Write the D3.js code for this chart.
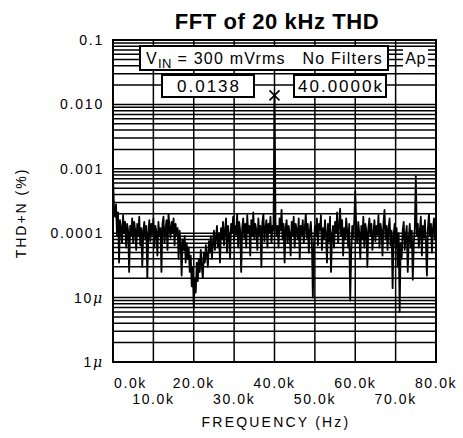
<!DOCTYPE html>
<html><head><meta charset="utf-8">
<script src="https://cdn.jsdelivr.net/npm/d3@7"></script>
<style>body{margin:0;background:#fff}svg{display:block}</style>
</head><body>
<script>
// ---- data ----
const title = "FFT of 20 kHz THD";
const xTicks = [0, 10, 20, 30, 40, 50, 60, 70, 80];          // kHz
const xTickLabels = ["0.0k","10.0k","20.0k","30.0k","40.0k","50.0k","60.0k","70.0k","80.0k"];
const yTicks = [1e-1, 1e-2, 1e-3, 1e-4, 1e-5, 1e-6];
const yTickLabels = ["0.1","0.010","0.001","0.0001","10\u03bc","1\u03bc"];
const freqStepKHz = 0.25;
// THD+N in micro-percent (x1e-6 %), one value per 0.25 kHz from 0 to 80 kHz
const thdMicroPct = [
 800,250,180,280,90,210,35,160,120,70,190,100,150,60,140,110,25,130,90,170,
 70,150,110,55,140,90,180,65,120,30,110,150,80,130,20,100,160,75,140,95,
 170,60,130,105,45,150,90,120,25,140,180,70,110,160,55,200,120,85,150,100,
 170,65,140,90,120,40,110,70,22,80,55,90,35,70,40,60,25,45,15,30,
 7,20,12,35,18,40,25,55,30,20,50,35,65,45,30,75,50,90,40,70,
 110,55,85,130,60,100,35,120,80,150,65,110,170,50,130,90,40,140,100,180,
 75,130,95,200,60,150,110,25,120,170,85,140,60,190,100,130,45,160,90,210,
 80,140,110,55,170,95,130,30,150,200,75,120,160,60,140,100,180,70,130,110,
 13800,150,90,130,60,170,110,230,80,140,35,120,160,70,130,100,45,150,90,180,
 60,140,110,80,170,40,130,95,160,70,120,200,85,140,50,110,150,75,10,60,
 130,90,170,65,140,110,190,55,120,80,160,100,35,140,75,180,25,90,130,60,
 150,100,210,70,130,240,90,160,45,120,80,170,110,60,140,9,50,130,85,160,
 450,120,70,150,100,40,130,80,180,60,140,110,30,120,170,90,140,55,100,160,
 75,130,95,190,60,140,110,45,150,230,80,130,55,120,170,65,110,14,90,140,
 60,120,30,100,6,70,40,110,150,55,90,130,25,80,140,60,110,19,70,120,
 770,90,140,60,110,180,45,130,85,160,70,22,120,200,90,140,50,120,170,80,
 130
];
const cursorValue = 0.0138, cursorFreq = 40;
const cursorLabels = ["0.0138", "40.0000k"];
const infoText = ["V", "IN", " = 300 mVrms", "No Filters", "Ap"];

// ---- chart ----
const W = 463, H = 438;
const L = 113, R = 436, T = 40, B = 362;
const svg = d3.select("body").append("svg").attr("width", W).attr("height", H);
svg.append("rect").attr("width", W).attr("height", H).attr("fill", "#fff");

const x = d3.scaleLinear().domain([0, 80]).range([L, R]);
const y = d3.scaleLog().domain([1e-6, 1e-1]).range([B, T]);
const font = "'Liberation Sans', Arial, sans-serif";

// grid
const g = svg.append("g");
const hLines = [];
for (let e = -6; e < -1; e++) for (let k = 1; k <= 9; k++) hLines.push(k * Math.pow(10, e));
g.selectAll("line.h").data(hLines).enter().append("line")
  .attr("x1", L).attr("x2", R).attr("y1", d => y(d)).attr("y2", d => y(d))
  .attr("stroke", "#000").attr("stroke-width", 1.5);
g.selectAll("line.v").data(xTicks).enter().append("line")
  .attr("x1", d => x(d)).attr("x2", d => x(d)).attr("y1", T).attr("y2", B)
  .attr("stroke", "#000").attr("stroke-width", 1.5);

// trace
const data = thdMicroPct.map((v, i) => ({f: i * freqStepKHz, v: v * 1e-6}));
svg.append("path").datum(data)
  .attr("d", d3.line().x(d => x(d.f)).y(d => y(d.v)))
  .attr("fill", "none").attr("stroke", "#000").attr("stroke-width", 1.8)
  .attr("stroke-linejoin", "round");

// border
svg.append("rect").attr("x", L).attr("y", T).attr("width", R - L).attr("height", B - T)
  .attr("fill", "none").attr("stroke", "#000").attr("stroke-width", 2);

// info box
svg.append("rect").attr("x", 140).attr("y", 46).attr("width", 248).attr("height", 24)
  .attr("fill", "#fff").attr("stroke", "#000").attr("stroke-width", 2);
const it = svg.append("text").attr("x", 146).attr("y", 64).attr("font-family", font)
  .attr("font-size", 16).attr("letter-spacing", 1.2);
it.append("tspan").text(infoText[0]);
it.append("tspan").attr("dy", 4).attr("font-size", 13).attr("letter-spacing", 0.5).text(infoText[1]);
it.append("tspan").attr("dy", -4).text(infoText[2]);
svg.append("text").attr("x", 383).attr("y", 64).attr("text-anchor", "end").attr("font-family", font)
  .attr("font-size", 16).attr("letter-spacing", 1.2).text(infoText[3]);
// Ap
svg.append("rect").attr("x", 403).attr("y", 49).attr("width", 25).attr("height", 19).attr("fill", "#fff");
svg.append("text").attr("x", 415.5).attr("y", 64).attr("text-anchor", "middle")
  .attr("font-family", font).attr("font-size", 16).attr("letter-spacing", 0.5).text(infoText[4]);

// cursor boxes
const boxes = [{x: 162, w: 92, t: cursorLabels[0]}, {x: 294, w: 92, t: cursorLabels[1]}];
boxes.forEach(b => {
  svg.append("rect").attr("x", b.x).attr("y", 75).attr("width", b.w).attr("height", 22)
    .attr("fill", "#fff").attr("stroke", "#000").attr("stroke-width", 2);
  svg.append("text").attr("x", b.x + b.w / 2 + 1).attr("y", 92).attr("text-anchor", "middle")
    .attr("font-family", font).attr("font-size", 17).attr("letter-spacing", 2).text(b.t);
});
// cursor mark
const cx = x(cursorFreq), cy = y(cursorValue);
svg.append("path").attr("d", `M${cx-5},${cy-5}L${cx+5},${cy+5}M${cx-5},${cy+5}L${cx+5},${cy-5}`)
  .attr("stroke", "#000").attr("stroke-width", 1.6);

// y tick labels
yTicks.forEach((v, i) => {
  const lab = yTickLabels[i];
  const t = svg.append("text").attr("x", 104).attr("y", y(v) + 5).attr("text-anchor", "end")
    .attr("font-family", font).attr("font-size", 14).attr("letter-spacing", 1.8);
  if (lab.endsWith("\u03bc")) {
    t.append("tspan").text(lab.slice(0, -1));
    t.append("tspan").attr("font-style", "italic").attr("font-family", "'DejaVu Serif', serif").text("\u03bc");
  } else t.text(lab);
});
// x tick labels
xTicks.forEach((v, i) => {
  svg.append("text").attr("x", i === 0 ? x(v) + 1 : x(v)).attr("y", i % 2 === 0 ? 388 : 404)
    .attr("text-anchor", i === 0 ? "start" : "middle")
    .attr("font-family", font).attr("font-size", 14).attr("letter-spacing", 1.6).text(xTickLabels[i]);
});
// axis titles
svg.append("text").attr("x", 276).attr("y", 427).attr("text-anchor", "middle")
  .attr("font-family", font).attr("font-size", 14).attr("letter-spacing", 2.2).text("FREQUENCY (Hz)");
svg.append("text").attr("transform", "translate(26,213) rotate(-90)").attr("text-anchor", "middle")
  .attr("font-family", font).attr("font-size", 14).attr("letter-spacing", 2).text("THD+N (%)");
svg.append("text").attr("x", 277).attr("y", 29).attr("text-anchor", "middle")
  .attr("font-family", font).attr("font-size", 22).attr("font-weight", "bold").attr("letter-spacing", 0.6).text(title);
</script>
</body></html>
